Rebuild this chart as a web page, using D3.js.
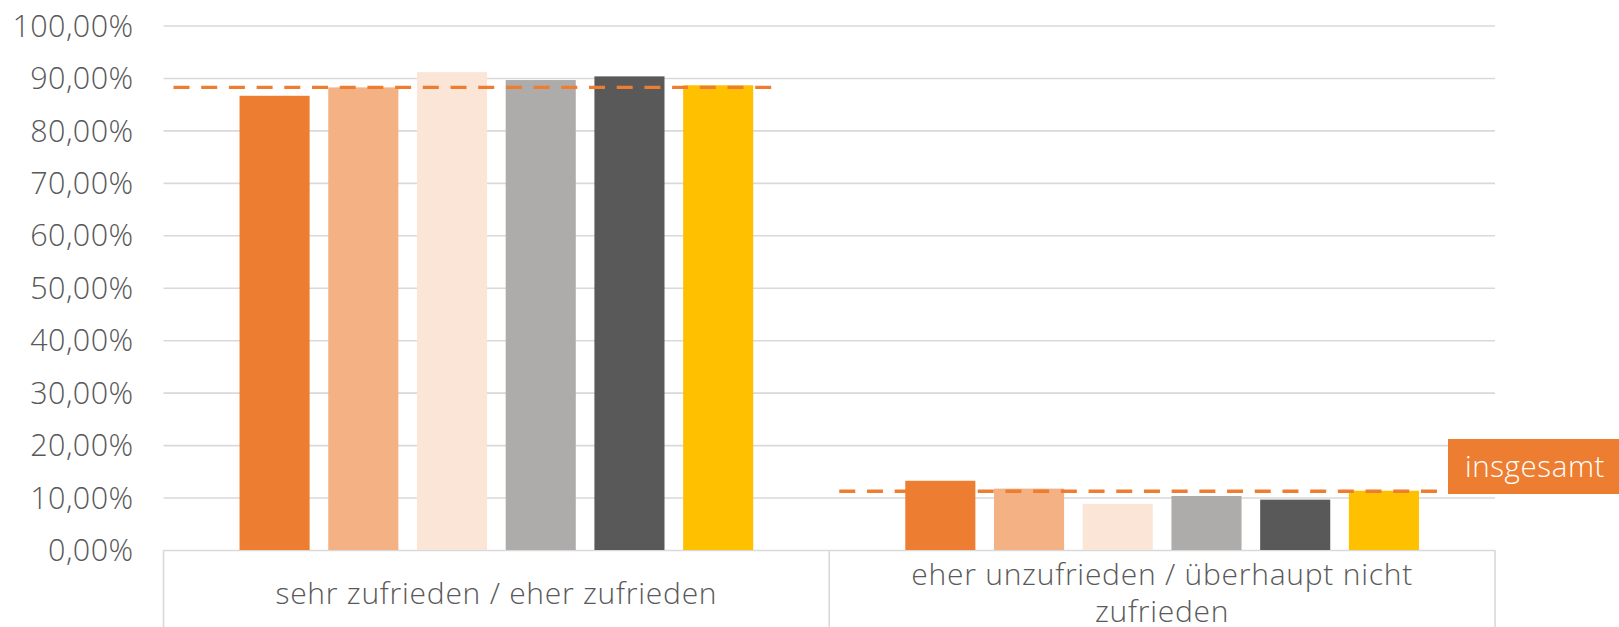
<!DOCTYPE html>
<html><head><meta charset="utf-8">
<script src="https://cdn.jsdelivr.net/npm/d3@7"></script>
<style>
html,body{margin:0;padding:0;background:#fff;}
svg{display:block;}
text{font-family:"Open Sans",sans-serif;font-weight:300;fill:#595959;}
</style></head>
<body>
<svg id="chart" width="1619" height="627"></svg>
<script>
// ---- data ----
const categories = [["sehr zufrieden / eher zufrieden"], ["eher unzufrieden / überhaupt nicht", "zufrieden"]];
const seriesNames = ["S1", "S2", "S3", "S4", "S5", "S6"];
const seriesColors = ["#ED7D31", "#F4B183", "#FBE5D6", "#AEABAB", "#595959", "#FFC000"];
const valuesCat1 = [0.866, 0.882, 0.911, 0.896, 0.903, 0.886];
const valuesCat2 = [0.132, 0.117, 0.088, 0.103, 0.096, 0.113];
const overall = [0.882, 0.112];
const yTicks = [0, 0.1, 0.2, 0.3, 0.4, 0.5, 0.6, 0.7, 0.8, 0.9, 1.0];
const overallLabel = "insgesamt";

// ---- layout ----
const pLeft = 163.5, pRight = 1495, pTop = 25.5, pBottom = 550, H = 627;
const svg = d3.select("#chart");

const x0 = d3.scaleBand().domain(d3.range(categories.length)).range([pLeft, pRight]).padding(0);
const x1 = d3.scaleBand().domain(seriesNames).range([0, x0.bandwidth()]).paddingInner(0.21).paddingOuter(0.857);
const y = d3.scaleLinear().domain([0, 1]).range([pBottom, pTop]);

const fmt = v => d3.format(".2f")(v * 100).replace(".", ",") + "%";

// gridlines
const yAxis = d3.axisLeft(y).tickValues(yTicks).tickFormat(fmt).tickSize(-(pRight - pLeft)).tickPadding(30);
const gAxis = svg.append("g").attr("transform", `translate(${pLeft},0)`).call(yAxis);
gAxis.select(".domain").remove();
gAxis.selectAll(".tick line").attr("stroke", "#d9d9d9").attr("stroke-width", 1.6);
gAxis.selectAll(".tick text").attr("fill", "#595959").style("font-size", "30.5px")
  .style("font-family", "'Open Sans',sans-serif").style("font-weight", 300)
  .style("letter-spacing", "0.4px").attr("dy", "0.35em");

// category box lines
const boundaries = [pLeft, ...d3.range(1, categories.length).map(i => x0(i)), pRight];
svg.selectAll("line.cat").data(boundaries).join("line").attr("class", "cat")
  .attr("x1", d => d).attr("x2", d => d).attr("y1", pBottom).attr("y2", H)
  .attr("stroke", "#d9d9d9").attr("stroke-width", 1.6);

// bars
const data = [valuesCat1, valuesCat2];
const groups = svg.selectAll("g.grp").data(data).join("g").attr("class", "grp")
  .attr("transform", (d, i) => `translate(${x0(i)},0)`);
groups.selectAll("rect").data(d => d.map((v, j) => ({v, j}))).join("rect")
  .attr("x", d => x1(seriesNames[d.j])).attr("width", x1.bandwidth())
  .attr("y", d => y(d.v)).attr("height", d => y(0) - y(d.v))
  .attr("fill", d => seriesColors[d.j]);

// overall dashed lines
svg.selectAll("line.overall").data(overall).join("line").attr("class", "overall")
  .attr("x1", (d, i) => x0(i) + 10).attr("x2", (d, i) => x0(i) + 615)
  .attr("y1", d => y(d)).attr("y2", d => y(d))
  .attr("stroke", "#ED7D31").attr("stroke-width", 3.3).attr("stroke-dasharray", "16 11.7");

// category labels
const catBase = [[604], [585, 622]];
categories.forEach((lines, i) => {
  const cx = x0(i) + x0.bandwidth() / 2;
  lines.forEach((t, k) => {
    svg.append("text").attr("x", cx).attr("y", catBase[i][k]).attr("text-anchor", "middle")
      .style("font-size", "30px").style("letter-spacing", "0.75px").text(t);
  });
});

// insgesamt label box
svg.append("rect").attr("x", 1448).attr("y", 439).attr("width", 1619 - 1448).attr("height", 55).attr("fill", "#ED7D31");
svg.append("text").attr("x", 1535).attr("y", 477).attr("text-anchor", "middle")
  .style("font-size", "29.5px").style("letter-spacing", "0.6px").style("fill", "#ffffff").text(overallLabel);
</script>
</body></html>
